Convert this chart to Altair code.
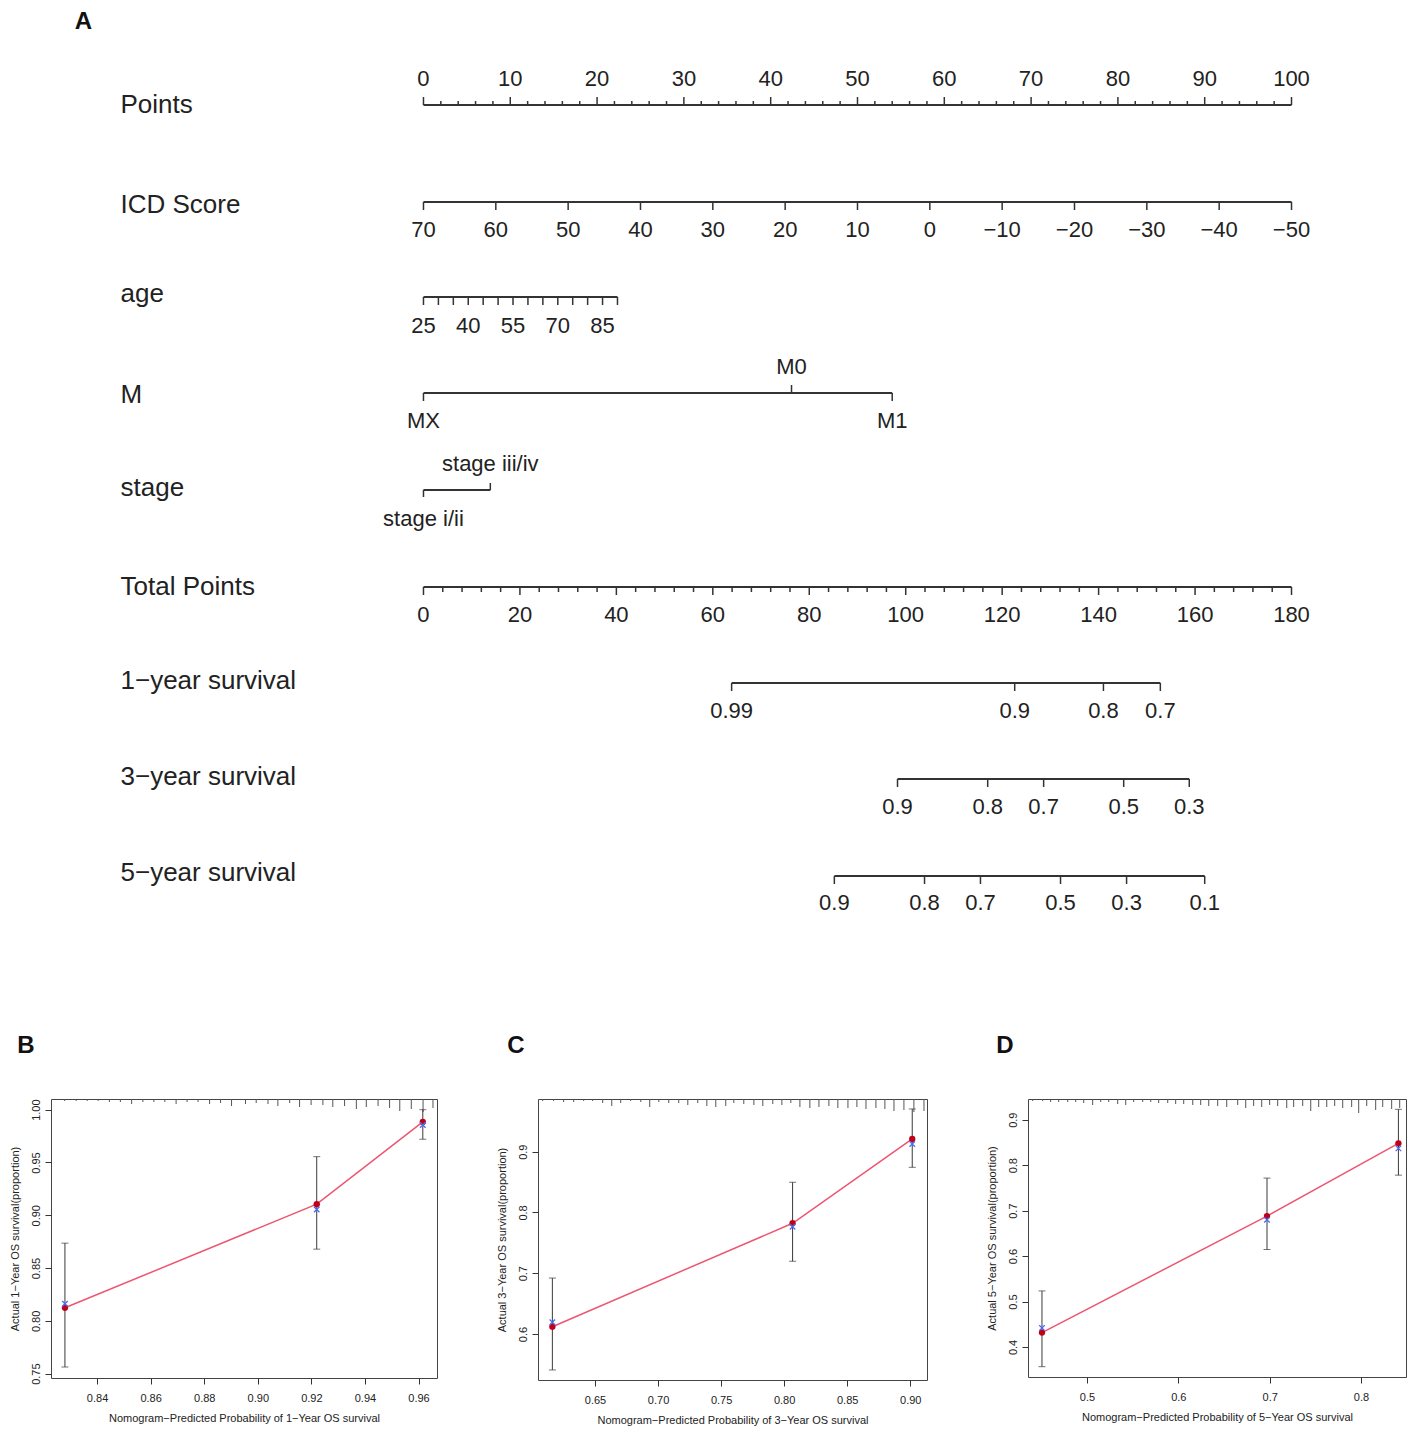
import altair as alt
import pandas as pd

FONT = "Liberation Sans"
MINUS = "\u2212"

# ---------------- Nomogram (panel A) data ----------------
points_major = list(range(0, 101, 10))
points_minor = [v for v in range(0, 101, 2) if v % 10]
icd_values = [70, 60, 50, 40, 30, 20, 10, 0, -10, -20, -30, -40, -50]
icd_range = (70, -50)                      # ICD 70 -> 0 points, -50 -> 100 points
age_ticks = list(range(25, 91, 5))
age_labels = [25, 40, 55, 70, 85]
age_range = (25, 90)
age_max_points = 22.35
m_levels = ["MX", "M0", "M1"]
m_points = [0.0, 42.4, 54.0]
stage_levels = ["stage i/ii", "stage iii/iv"]
stage_points = [0.0, 7.7]
total_max = 180
total_major = list(range(0, 181, 20))
total_minor = [v for v in range(0, 181, 4) if v % 20]
surv1_labels = ["0.99", "0.9", "0.8", "0.7"]
surv1_total = [63.9, 122.6, 141.0, 152.8]
surv3_labels = ["0.9", "0.8", "0.7", "0.5", "0.3"]
surv3_total = [98.3, 117.0, 128.6, 145.2, 158.8]
surv5_labels = ["0.9", "0.8", "0.7", "0.5", "0.3", "0.1"]
surv5_total = [85.2, 103.9, 115.5, 132.1, 145.8, 162.0]
row_names = ["Points", "ICD Score", "age", "M", "stage", "Total Points",
             "1" + MINUS + "year survival", "3" + MINUS + "year survival",
             "5" + MINUS + "year survival"]

# ---------------- Calibration (panels B, C, D) data ----------------
b_pred = [0.8280, 0.9220, 0.9616]
b_obs = [0.8124, 0.9105, 0.9884]
b_bc = [0.8162, 0.9054, 0.9855]
b_lo = [0.7563, 0.8679, 0.9720]
b_hi = [0.8736, 0.9555, 1.0000]
b_rug_x = [0.8279, 0.8322, 0.8363, 0.8404, 0.8446, 0.8487, 0.8529, 0.8571, 0.8612,
           0.8653, 0.8695, 0.8736, 0.8777, 0.8820, 0.8861, 0.8902, 0.8954, 0.8994,
           0.9038, 0.9075, 0.9119, 0.9156, 0.9199, 0.9243, 0.9280, 0.9324, 0.9368,
           0.9405, 0.9449, 0.9492, 0.9530, 0.9573, 0.9617, 0.9654]
b_rug_f = [2, 2, 2, 2, 3, 3, 5, 3, 3, 3, 5, 3, 3, 5, 4, 7, 5, 4, 5, 7, 4, 8, 6, 6, 8,
           7, 10, 8, 7, 9, 12, 10, 13, 9]

c_pred = [0.6162, 0.8067, 0.9016]
c_obs = [0.6120, 0.7822, 0.9209]
c_bc = [0.6193, 0.7766, 0.9127]
c_lo = [0.5408, 0.7197, 0.8743]
c_hi = [0.6921, 0.8497, 0.9703]
c_rug_x = [0.6085, 0.6172, 0.6251, 0.6331, 0.6410, 0.6481, 0.6561, 0.6633, 0.6704,
           0.6783, 0.6863, 0.6934, 0.7006, 0.7085, 0.7164, 0.7236, 0.7315, 0.7387,
           0.7458, 0.7537, 0.7601, 0.7680, 0.7760, 0.7831, 0.7910, 0.7982, 0.8053,
           0.8125, 0.8204, 0.8276, 0.8355, 0.8426, 0.8506, 0.8577, 0.8649, 0.8728,
           0.8799, 0.8871, 0.8950, 0.9029, 0.9109]
c_rug_f = [2, 2, 3, 3, 2, 2, 4, 7, 4, 2, 3, 8, 3, 4, 4, 6, 4, 7, 8, 7,
           4, 5, 6, 7, 5, 6, 4, 8, 9, 8, 7, 9, 9, 8, 10, 9, 10, 12, 11, 13, 12]

d_pred = [0.4507, 0.6971, 0.8410]
d_obs = [0.4317, 0.6879, 0.8480]
d_bc = [0.4419, 0.6797, 0.8370]
d_lo = [0.3566, 0.6145, 0.7780]
d_hi = [0.5233, 0.7716, 0.9229]
d_rug_x = [0.4405, 0.4515, 0.4602, 0.4690, 0.4789, 0.4876, 0.4964, 0.5062, 0.5150,
           0.5238, 0.5336, 0.5424, 0.5511, 0.5610, 0.5698, 0.5785, 0.5884, 0.5971,
           0.6059, 0.6158, 0.6245, 0.6333, 0.6431, 0.6530, 0.6650, 0.6738, 0.6825,
           0.6913, 0.7000, 0.7088, 0.7187, 0.7263, 0.7362, 0.7450, 0.7537, 0.7625,
           0.7712, 0.7800, 0.7898, 0.7975, 0.8063, 0.8161, 0.8238, 0.8336, 0.8424,
           0.8511]
d_rug_f = [2, 2, 3, 3, 3, 3, 4, 6, 3, 3, 5, 6, 3, 3, 3, 4, 4, 5, 5, 6, 6, 7, 7,
           8, 6, 9, 7, 8, 6, 7, 9, 8, 7, 12, 8, 8, 7, 9, 8, 14, 7, 11, 8, 10, 9, 7]

# ---------------- Layout (page-pixel rows of the nomogram) ----------------
# the nomogram plot shares its left origin with panel B's plot (page x ~51.5)
NOMO_W, NOMO_H = 1357, 1000
X_DOMAIN = [-42.91, 113.42]
ROW_Y = dict(points=105, icd=202, age=297, m=393, stage=490, total=587,
             s1=683, s3=779, s5=876)
LAB_Y = dict(points=79, icd=230, age=326, m_up=367, m_dn=421, st_up=464,
             st_dn=519, total=615, s1=711, s3=807, s5=903)
ROW_LABEL_Y = [105, 205, 294, 395, 488, 587, 681, 777, 873]
TICK = 8

lines, ticks, labels = [], [], []


def fmt_num(v):
    return (MINUS + str(-v)) if v < 0 else str(v)


# Points
lines.append(dict(x=0, x2=100, y=ROW_Y["points"]))
for v in points_major:
    ticks.append(dict(x=v, y=ROW_Y["points"], y2=ROW_Y["points"] - TICK))
    labels.append(dict(x=v, y=LAB_Y["points"], text=str(v)))
for v in points_minor:
    ticks.append(dict(x=v, y=ROW_Y["points"], y2=ROW_Y["points"] - 4))

# ICD score
lines.append(dict(x=0, x2=100, y=ROW_Y["icd"]))
for v in icd_values:
    p = (icd_range[0] - v) * 100 / (icd_range[0] - icd_range[1])
    ticks.append(dict(x=p, y=ROW_Y["icd"], y2=ROW_Y["icd"] + TICK))
    labels.append(dict(x=p, y=LAB_Y["icd"], text=fmt_num(v)))


# age
def age_p(a):
    return (a - age_range[0]) / (age_range[1] - age_range[0]) * age_max_points


lines.append(dict(x=0, x2=age_max_points, y=ROW_Y["age"]))
for a in age_ticks:
    ticks.append(dict(x=age_p(a), y=ROW_Y["age"], y2=ROW_Y["age"] + TICK))
for a in age_labels:
    labels.append(dict(x=age_p(a), y=LAB_Y["age"], text=str(a)))

# M
lines.append(dict(x=min(m_points), x2=max(m_points), y=ROW_Y["m"]))
m_dir = [1, -1, 1]
for name, p, d in zip(m_levels, m_points, m_dir):
    ticks.append(dict(x=p, y=ROW_Y["m"], y2=ROW_Y["m"] + d * TICK))
    labels.append(dict(x=p, y=LAB_Y["m_dn"] if d > 0 else LAB_Y["m_up"], text=name))

# stage
lines.append(dict(x=min(stage_points), x2=max(stage_points), y=ROW_Y["stage"]))
st_dir = [1, -1]
for name, p, d in zip(stage_levels, stage_points, st_dir):
    ticks.append(dict(x=p, y=ROW_Y["stage"], y2=ROW_Y["stage"] + d * 7))
    labels.append(dict(x=p, y=LAB_Y["st_dn"] if d > 0 else LAB_Y["st_up"], text=name))


# Total points
def tot_p(t):
    return t * 100 / total_max


lines.append(dict(x=0, x2=100, y=ROW_Y["total"]))
for t in total_major:
    ticks.append(dict(x=tot_p(t), y=ROW_Y["total"], y2=ROW_Y["total"] + TICK))
    labels.append(dict(x=tot_p(t), y=LAB_Y["total"], text=str(t)))
for t in total_minor:
    ticks.append(dict(x=tot_p(t), y=ROW_Y["total"], y2=ROW_Y["total"] + 5))

# survival rows
for key, labs, tots in [("s1", surv1_labels, surv1_total),
                        ("s3", surv3_labels, surv3_total),
                        ("s5", surv5_labels, surv5_total)]:
    ps = [tot_p(t) for t in tots]
    lines.append(dict(x=min(ps), x2=max(ps), y=ROW_Y[key]))
    for lab, p in zip(labs, ps):
        ticks.append(dict(x=p, y=ROW_Y[key], y2=ROW_Y[key] + TICK))
        labels.append(dict(x=p, y=LAB_Y[key], text=lab))

lines_df = pd.DataFrame(lines)
ticks_df = pd.DataFrame(ticks)
labels_df = pd.DataFrame(labels)
rows_df = pd.DataFrame({"text": row_names, "y": ROW_LABEL_Y})

xs = alt.Scale(domain=X_DOMAIN, nice=False, zero=False)
ys = alt.Scale(domain=[8, 8 + NOMO_H], nice=False, zero=False, reverse=True)
INK = "#222222"

nomo_lines = alt.Chart(lines_df).mark_rule(color="#333333", strokeWidth=1.8).encode(
    x=alt.X("x:Q", scale=xs, axis=None), x2="x2:Q",
    y=alt.Y("y:Q", scale=ys, axis=None))
nomo_ticks = alt.Chart(ticks_df).mark_rule(color="#333333", strokeWidth=1.5).encode(
    x=alt.X("x:Q", scale=xs, axis=None),
    y=alt.Y("y:Q", scale=ys, axis=None), y2="y2:Q")
nomo_labels = alt.Chart(labels_df).mark_text(
    font=FONT, fontSize=22, color=INK, align="center", baseline="middle").encode(
    x=alt.X("x:Q", scale=xs, axis=None),
    y=alt.Y("y:Q", scale=ys, axis=None), text="text:N")
nomo_rows = alt.Chart(rows_df).mark_text(
    font=FONT, fontSize=26, color=INK, align="left", baseline="middle").encode(
    x=alt.value(69.5),
    y=alt.Y("y:Q", scale=ys, axis=None), text="text:N")
nomo_letter = alt.Chart(pd.DataFrame({"t": ["A"]})).mark_text(
    font=FONT, fontSize=24, fontWeight="bold", color="#111111",
    align="center", baseline="middle").encode(
    x=alt.value(32.5), y=alt.value(14), text="t:N")

nomogram = alt.layer(nomo_lines, nomo_ticks, nomo_labels, nomo_rows, nomo_letter).properties(
    width=NOMO_W, height=NOMO_H, view=alt.ViewBackground(strokeOpacity=0))


# ---------------- calibration panels ----------------
def panel(letter, letter_dx, pred, obs, bc, lo, hi, rug_x, rug_f, xdom, ydom,
          xticks, yticks, xfmt, yfmt, xtitle, ytitle, width, height):
    pts = pd.DataFrame({"pred": pred, "obs": obs, "bc": bc, "lo": lo, "hi": hi})
    ytop = ydom[1]
    per_px = (ydom[1] - ydom[0]) / height
    rug = pd.DataFrame({"x": rug_x, "f": rug_f})
    rug["y"] = ytop
    rug["y2"] = ytop - rug["f"] * per_px

    xsc = alt.Scale(domain=xdom, nice=False, zero=False)
    ysc = alt.Scale(domain=ydom, nice=False, zero=False)
    xax = alt.Axis(values=xticks, format=xfmt, title=xtitle, grid=False, domain=False,
                   tickSize=6, tickColor="#333333", labelFontSize=11, titleFontSize=11,
                   labelPadding=8, titlePadding=9, titleFontWeight="normal",
                   labelColor=INK, titleColor=INK, labelFont=FONT, titleFont=FONT)
    yax = alt.Axis(values=yticks, format=yfmt, title=ytitle, grid=False, domain=False,
                   tickSize=6, tickColor="#333333", labelFontSize=11, titleFontSize=11,
                   labelAngle=270, labelPadding=4, titlePadding=10,
                   titleFontWeight="normal", labelColor=INK, titleColor=INK,
                   labelFont=FONT, titleFont=FONT)

    spikes = alt.Chart(rug).mark_rule(color="#555555", strokeWidth=1, clip=True).encode(
        x=alt.X("x:Q", scale=xsc, axis=xax),
        y=alt.Y("y:Q", scale=ysc, axis=yax), y2="y2:Q")
    errs = alt.Chart(pts).mark_rule(color="#3a3a3a", strokeWidth=1).encode(
        x=alt.X("pred:Q", scale=xsc), y=alt.Y("lo:Q", scale=ysc), y2="hi:Q")
    cap_lo = alt.Chart(pts).mark_tick(orient="horizontal", size=7, thickness=1,
                                      color="#3a3a3a").encode(
        x=alt.X("pred:Q", scale=xsc), y=alt.Y("lo:Q", scale=ysc))
    cap_hi = alt.Chart(pts).mark_tick(orient="horizontal", size=7, thickness=1,
                                      color="#3a3a3a").encode(
        x=alt.X("pred:Q", scale=xsc), y=alt.Y("hi:Q", scale=ysc))
    line = alt.Chart(pts).mark_line(color="#EE5570", strokeWidth=1.5).encode(
        x=alt.X("pred:Q", scale=xsc), y=alt.Y("obs:Q", scale=ysc))
    dots = alt.Chart(pts).mark_point(filled=True, shape="circle", size=40,
                                     color="#C00018", opacity=1).encode(
        x=alt.X("pred:Q", scale=xsc), y=alt.Y("obs:Q", scale=ysc))
    crosses = alt.Chart(pts).mark_point(shape="M-1,-1L1,1M-1,1L1,-1", filled=False,
                                        size=30, strokeWidth=1.3, color="#4A6CF0",
                                        opacity=1).encode(
        x=alt.X("pred:Q", scale=xsc), y=alt.Y("bc:Q", scale=ysc))
    let = alt.Chart(pd.DataFrame({"t": [letter]})).mark_text(
        font=FONT, fontSize=24, fontWeight="bold", color="#111111",
        align="center", baseline="middle").encode(
        x=alt.value(letter_dx), y=alt.value(-53), text="t:N")
    return alt.layer(spikes, errs, cap_lo, cap_hi, line, dots, crosses, let).properties(
        width=width, height=height,
        view=alt.ViewBackground(stroke="#444444", strokeWidth=1))


pB = panel("B", -25, b_pred, b_obs, b_bc, b_lo, b_hi, b_rug_x, b_rug_f,
           [0.8228, 0.9669], [0.7459, 1.0101],
           [0.84, 0.86, 0.88, 0.90, 0.92, 0.94, 0.96], [0.75, 0.80, 0.85, 0.90, 0.95, 1.00],
           ".2f", ".2f",
           "Nomogram" + MINUS + "Predicted Probability of 1" + MINUS + "Year OS survival",
           "Actual 1" + MINUS + "Year OS survival(proportion)", 386, 279)
pC = panel("C", -22, c_pred, c_obs, c_bc, c_lo, c_hi, c_rug_x, c_rug_f,
           [0.6048, 0.9133], [0.5243, 0.9867],
           [0.65, 0.70, 0.75, 0.80, 0.85, 0.90], [0.6, 0.7, 0.8, 0.9],
           ".2f", ".1f",
           "Nomogram" + MINUS + "Predicted Probability of 3" + MINUS + "Year OS survival",
           "Actual 3" + MINUS + "Year OS survival(proportion)", 389, 281)
pD = panel("D", -23, d_pred, d_obs, d_bc, d_lo, d_hi, d_rug_x, d_rug_f,
           [0.4354, 0.8493], [0.3339, 0.9456],
           [0.5, 0.6, 0.7, 0.8], [0.4, 0.5, 0.6, 0.7, 0.8, 0.9],
           ".1f", ".1f",
           "Nomogram" + MINUS + "Predicted Probability of 5" + MINUS + "Year OS survival",
           "Actual 5" + MINUS + "Year OS survival(proportion)", 378, 278)

bottom = alt.hconcat(pB, pC, pD, spacing=101, bounds="flush")

chart = alt.vconcat(nomogram, bottom, spacing=25).properties(
    padding=0, background="white"
).configure(font=FONT).configure_view(stroke="#444444")

chart.save("out.html", embed_options={"renderer": "svg", "actions": False})
